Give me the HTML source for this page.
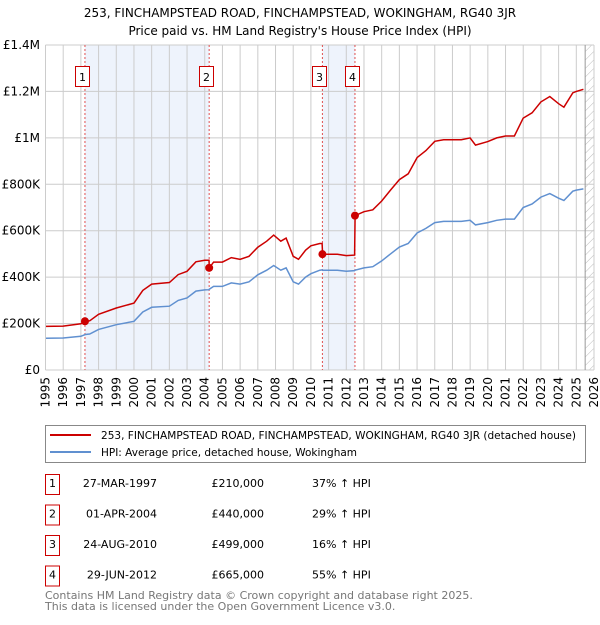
<!DOCTYPE html>
<html><head><meta charset="utf-8">
<style>
body{margin:0;background:#fff;font-family:"Liberation Sans","DejaVu Sans",sans-serif;}
svg text{font-family:"DejaVu Sans","Liberation Sans",sans-serif;}
</style></head>
<body>
<svg id="c" width="600" height="620" xmlns="http://www.w3.org/2000/svg">
<text x="300" y="17" font-size="12" text-anchor="middle">253, FINCHAMPSTEAD ROAD, FINCHAMPSTEAD, WOKINGHAM, RG40 3JR</text>
<text x="300" y="35" font-size="12" text-anchor="middle">Price paid vs. HM Land Registry's House Price Index (HPI)</text>
<g id="plot"></g>
<g>
<rect x="45.5" y="425.5" width="540" height="37" fill="#fff" stroke="#888"/>
<line x1="50" y1="435" x2="91" y2="435" stroke="#cc0000" stroke-width="2"/>
<text x="101" y="439" font-size="11" textLength="475" lengthAdjust="spacingAndGlyphs">253, FINCHAMPSTEAD ROAD, FINCHAMPSTEAD, WOKINGHAM, RG40 3JR (detached house)</text>
<line x1="50" y1="452" x2="91" y2="452" stroke="#6090d0" stroke-width="2"/>
<text x="101" y="456" font-size="11" textLength="256" lengthAdjust="spacingAndGlyphs">HPI: Average price, detached house, Wokingham</text>
</g>
<g id="tbl" font-size="11"></g>
<text x="45" y="599" font-size="11" fill="#777">Contains HM Land Registry data © Crown copyright and database right 2025.</text>
<text x="45" y="610" font-size="11" fill="#777">This data is licensed under the Open Government Licence v3.0.</text>
</svg>
<script>
const years=[1995,1996,1997,1997.25,1997.5,1998,1999,2000,2000.5,2001,2002,2002.5,2003,2003.5,2004,2004.24,2004.26,2004.5,2005,2005.5,2006,2006.5,2007,2007.5,2007.9,2008.3,2008.6,2009,2009.3,2009.7,2010,2010.5,2010.63,2010.66,2011,2011.5,2012,2012.47,2012.5,2013,2013.5,2014,2014.5,2015,2015.5,2016,2016.5,2017,2017.5,2018,2018.5,2019,2019.3,2020,2020.5,2021,2021.5,2022,2022.5,2023,2023.5,2024,2024.3,2024.8,2025,2025.4];
const hpi=[137,138,145,153,155,175,195,210,250,270,275,300,310,340,345,346,348,360,360,375,370,380,410,430,450,430,440,380,370,400,415,430,431,430,430,430,425,428,430,440,445,470,500,530,545,590,610,635,640,640,640,645,625,635,645,650,650,700,715,745,760,740,730,770,775,780];
const price=[188,189,199,210,212,240,267,288,343,370,377,411,425,466,473,473,440,465,465,484,477,490,529,555,581,555,568,490,477,516,535,545,545,499,499,499,493,495,665,682,690,728,775,820,845,915,945,985,992,992,992,1000,969,984,1000,1008,1008,1085,1108,1155,1178,1147,1132,1194,1200,1209];
const sales=[1997.23,2004.25,2010.65,2012.49];
const saleValues=[210,440,499,665];
const saleDates=["27-MAR-1997","01-APR-2004","24-AUG-2010","29-JUN-2012"];
const salePrices=["£210,000","£440,000","£499,000","£665,000"];
const saleHpi=["37% ↑ HPI","29% ↑ HPI","16% ↑ HPI","55% ↑ HPI"];
const yTicks=[0,200,400,600,800,1000,1200,1400];
const yLabels=["£0","£200K","£400K","£600K","£800K","£1M","£1.2M","£1.4M"];

const NS="http://www.w3.org/2000/svg";
const X0=45.5,X1=594,Y0=370,Y1=45;
const x=v=>X0+(v-1995)/31*(X1-X0);
const y=v=>Y0-v/1400*(Y0-Y1);
const plot=document.getElementById('plot');
function mk(tag,attrs,parent){const e=document.createElementNS(NS,tag);for(const k in attrs)e.setAttribute(k,attrs[k]);(parent||plot).appendChild(e);return e;}
let s=mk('rect',{x:x(sales[0]),y:Y1,width:x(sales[1])-x(sales[0]),height:Y0-Y1,fill:'#eef3fc'});


s=mk('rect',{x:x(sales[2]),y:Y1,width:x(sales[3])-x(sales[2]),height:Y0-Y1,fill:'#eef3fc'});


const defs=mk('defs',{});
const pat=mk('pattern',{id:'hatch',width:6,height:6,patternUnits:'userSpaceOnUse',patternTransform:'rotate(45)'},defs);
mk('line',{x1:0,y1:0,x2:0,y2:6,stroke:'#bbb','stroke-width':1},pat);
const hx=x(2025.5);
s=mk('rect',{x:hx,y:Y1,width:X1-hx,height:Y0-Y1,fill:'url(#hatch)'});


for(let yr=1995;yr<=2026;yr++){
 const g=mk('line',{x1:x(yr),x2:x(yr),y1:Y1,y2:Y0,stroke:'#ccc','stroke-width':1});
 
 
 const t=mk('text',{x:0,y:0,'font-size':12,'text-anchor':'end',transform:`translate(${x(yr)+4},${Y0+7}) rotate(-90)`});
 t.textContent=yr;
 
 
}
yTicks.forEach((v,i)=>{
 const g=mk('line',{x1:X0,x2:X1,y1:y(v),y2:y(v),stroke:'#ccc','stroke-width':1});
 
 
 const t=mk('text',{x:40,y:y(v)+4,'font-size':12,'text-anchor':'end'});
 t.textContent=yLabels[i];
 
 
});
let l=mk('line',{x1:hx,x2:hx,y1:Y1,y2:Y0,stroke:'#999','stroke-width':1});


sales.forEach((sv,i)=>{
 const d=mk('line',{x1:x(sv),x2:x(sv),y1:Y1,y2:Y0,stroke:'#e05050','stroke-width':1,'stroke-dasharray':'2,2'});
 
 
 const bx=Math.round(x(sv))-10;
 const r=mk('rect',{x:bx+0.5,y:66.5,width:14,height:20,fill:'#fff',stroke:'#cc0000'});
 
 
 const t=mk('text',{x:bx+7.5,y:81,'font-size':11,'text-anchor':'middle'});
 t.textContent=i+1;
 
 
});
const hp=mk('path',{d:years.map((v,i)=>(i?'L':'M')+x(v).toFixed(1)+','+y(hpi[i]).toFixed(1)).join(''),fill:'none',stroke:'#6090d0','stroke-width':1.5});


const pp=mk('path',{d:years.map((v,i)=>(i?'L':'M')+x(v).toFixed(1)+','+y(price[i]).toFixed(1)).join(''),fill:'none',stroke:'#cc0000','stroke-width':1.5});


sales.forEach((sv,i)=>{
 const c=mk('circle',{cx:x(sv),cy:y(saleValues[i]),r:4,fill:'#cc0000'});
 
 
});
l=mk('line',{x1:X0,x2:X0,y1:Y1,y2:Y0,stroke:'#ccc'});


const tbl=document.getElementById('tbl');
saleDates.forEach((d,i)=>{
 const cy=483+i*30.5;
 const r=mk('rect',{x:45.5,y:cy-8.5,width:14,height:20,fill:'#fff',stroke:'#cc0000'},tbl);
 
 
 let t=mk('text',{x:52.5,y:cy+4,'text-anchor':'middle'},tbl);t.textContent=i+1;
 
 
 t=mk('text',{x:157,y:cy+4,'text-anchor':'end'},tbl);t.textContent=d;
 
 
 t=mk('text',{x:264,y:cy+4,'text-anchor':'end'},tbl);t.textContent=salePrices[i];
 
 
 t=mk('text',{x:312,y:cy+4},tbl);t.textContent=saleHpi[i];
 
 
});
</script>
</body></html>
